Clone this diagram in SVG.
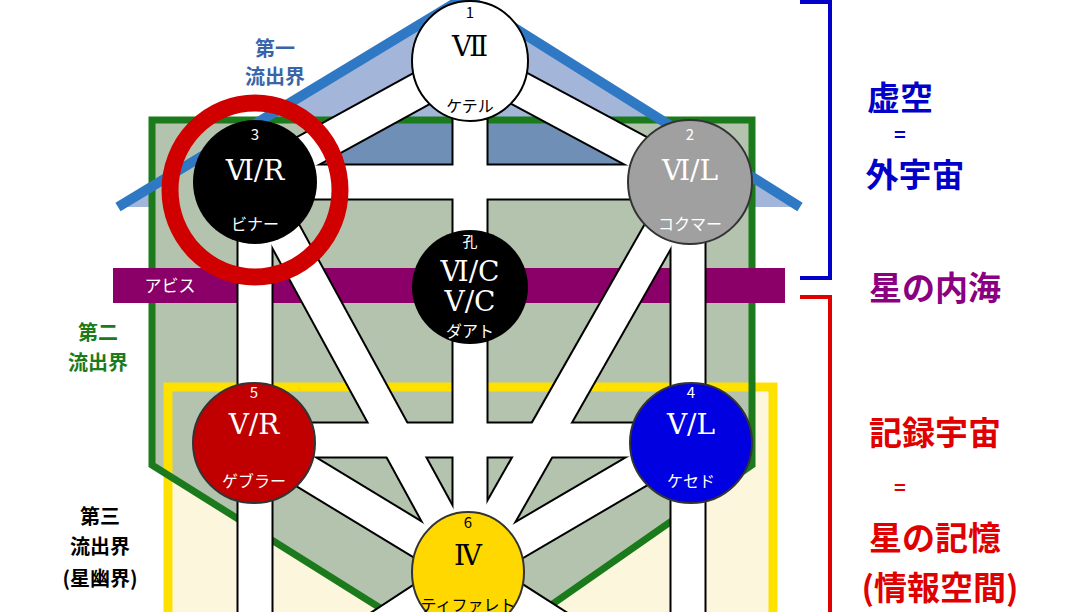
<svg xmlns="http://www.w3.org/2000/svg" width="1088" height="612" viewBox="0 0 1088 612">
<style>
.po{stroke:#000;stroke-width:37;fill:none}
.pi{stroke:#fff;stroke-width:33;fill:none}
.t{font-family:"Noto Sans CJK JP","DejaVu Sans",sans-serif;text-anchor:middle}
.num{font-size:15px}
.rom{font-size:28px;font-family:"DejaVu Serif","Liberation Serif",serif}
.nm{font-size:16px}
.lb{font-weight:bold;font-size:20px}
.big{font-weight:bold;font-size:33px}
</style>
<rect width="1088" height="612" fill="#fff"/>
<g id="background">
<polygon points="118,207 465,-3 800,207" fill="#a3b6da"/>
<rect x="168" y="385" width="605" height="240" fill="#fcf6dc"/>
<polygon points="152,120 752,120 752,465 468,663 152,465" fill="#b4c3ae"/>
<polygon points="364,120 576,120 690,183 255,183" fill="#6f8fb6"/>
<rect x="168" y="387" width="605" height="240" fill="none" stroke="#ffe100" stroke-width="9"/>
<polygon points="152,120 752,120 752,465 468,663 152,465" fill="none" stroke="#1b7a1b" stroke-width="7"/>
<polyline points="118,207 465,-3 800,207" fill="none" stroke="#2f78c4" stroke-width="10"/>
<rect x="113" y="268" width="672" height="35" fill="#8b0068"/>
<text class="t" x="170" y="292" font-size="17" fill="#fff">アビス</text>
</g>
<g id="connectors">
<g class="po">
<line x1="470" y1="62" x2="255" y2="180"/><line x1="470" y1="62" x2="690" y2="180"/>
<line x1="470" y1="62" x2="470" y2="285"/><line x1="255" y1="182" x2="690" y2="182"/>
<line x1="255" y1="180" x2="255" y2="640"/><line x1="688" y1="180" x2="688" y2="640"/>
<line x1="255" y1="180" x2="468" y2="570"/><line x1="690" y1="180" x2="468" y2="570"/>
<line x1="470" y1="285" x2="470" y2="640"/><line x1="254" y1="440" x2="690" y2="440"/>
<line x1="254" y1="440" x2="468" y2="570"/><line x1="690" y1="440" x2="468" y2="570"/>
<line x1="468" y1="570" x2="300" y2="680"/><line x1="468" y1="570" x2="640" y2="680"/>
</g>
<g class="pi">
<line x1="470" y1="62" x2="255" y2="180"/><line x1="470" y1="62" x2="690" y2="180"/>
<line x1="470" y1="62" x2="470" y2="285"/><line x1="255" y1="182" x2="690" y2="182"/>
<line x1="255" y1="180" x2="255" y2="640"/><line x1="688" y1="180" x2="688" y2="640"/>
<line x1="255" y1="180" x2="468" y2="570"/><line x1="690" y1="180" x2="468" y2="570"/>
<line x1="470" y1="285" x2="470" y2="640"/><line x1="254" y1="440" x2="690" y2="440"/>
<line x1="254" y1="440" x2="468" y2="570"/><line x1="690" y1="440" x2="468" y2="570"/>
<line x1="468" y1="570" x2="300" y2="680"/><line x1="468" y1="570" x2="640" y2="680"/>
</g>
</g>
<g id="keter"><ellipse cx="470" cy="61" rx="58" ry="60" fill="#fff" stroke="#000" stroke-width="2"/>
<text class="t num" x="470" y="18">1</text><text class="t rom" x="470" y="56">Ⅶ</text><text class="t nm" x="470" y="112">ケテル</text></g>
<g id="binah"><ellipse cx="255" cy="182" rx="62" ry="62" fill="#000"/>
<text class="t num" x="255" y="140" fill="#fff">3</text><text class="t rom" x="255" y="180" fill="#fff">Ⅵ/R</text><text class="t nm" x="255" y="230" fill="#fff">ビナー</text></g>
<g id="chokmah"><ellipse cx="690" cy="182" rx="62" ry="62" fill="#a0a0a0" stroke="#333" stroke-width="2"/>
<text class="t num" x="690" y="140" fill="#fff">2</text><text class="t rom" x="690" y="180" fill="#fff">Ⅵ/L</text><text class="t nm" x="690" y="230" fill="#fff">コクマー</text></g>
<g id="daat"><ellipse cx="470" cy="287" rx="58" ry="57" fill="#000"/>
<text class="t num" x="470" y="247" fill="#fff">孔</text><text class="t rom" x="470" y="281" fill="#fff">Ⅵ/C</text><text class="t rom" x="470" y="311" fill="#fff">Ⅴ/C</text><text class="t nm" x="470" y="337" fill="#fff">ダアト</text></g>
<g id="gevurah"><ellipse cx="254" cy="443" rx="61" ry="60" fill="#c00000" stroke="#333" stroke-width="2"/>
<text class="t num" x="254" y="398" fill="#fff">5</text><text class="t rom" x="254" y="434" fill="#fff">Ⅴ/R</text><text class="t nm" x="254" y="487" fill="#fff">ゲブラー</text></g>
<g id="chesed"><ellipse cx="691" cy="443" rx="61" ry="60" fill="#0000e0" stroke="#333" stroke-width="2"/>
<text class="t num" x="691" y="398" fill="#fff">4</text><text class="t rom" x="691" y="434" fill="#fff">Ⅴ/L</text><text class="t nm" x="691" y="487" fill="#fff">ケセド</text></g>
<g id="tiferet"><ellipse cx="468" cy="572" rx="56" ry="60" fill="#ffd800" stroke="#333" stroke-width="2"/>
<text class="t num" x="468" y="528">6</text><text class="t rom" x="468" y="565">Ⅳ</text><text class="t nm" x="468" y="611">ティファレト</text></g>
<ellipse id="ring" cx="255" cy="190" rx="85" ry="87" fill="none" stroke="#d00000" stroke-width="17"/>
<g id="labels">
<text class="t lb" x="275" y="56" fill="#3a64a8">第一</text><text class="t lb" x="275" y="84" fill="#3a64a8">流出界</text>
<text class="t lb" x="98" y="340" fill="#1b7a1b">第二</text><text class="t lb" x="98" y="370" fill="#1b7a1b">流出界</text>
<text class="t lb" x="100" y="524">第三</text><text class="t lb" x="100" y="554">流出界</text><text class="t lb" x="100" y="586">(星幽界)</text>
</g>
<g id="brackets" fill="none" stroke-width="4">
<polyline points="800,2 830,2 830,278 800,278" stroke="#0000c8"/>
<polyline points="800,297 830,297 830,620" stroke="#e00000"/>
</g>
<g id="right">
<text class="t big" x="900" y="110" fill="#0000c8">虚空</text>
<text class="t lb" x="900" y="142" fill="#0000c8">=</text>
<text class="t big" x="915" y="187" fill="#0000c8">外宇宙</text>
<text class="t big" x="935" y="300" fill="#8b0080">星の内海</text>
<text class="t big" x="935" y="445" fill="#e00000">記録宇宙</text>
<text class="t lb" x="900" y="495" fill="#e00000">=</text>
<text class="t big" x="935" y="550" fill="#e00000">星の記憶</text>
<text class="t big" x="940" y="600" fill="#e00000">(情報空間)</text>
</g>
</svg>
